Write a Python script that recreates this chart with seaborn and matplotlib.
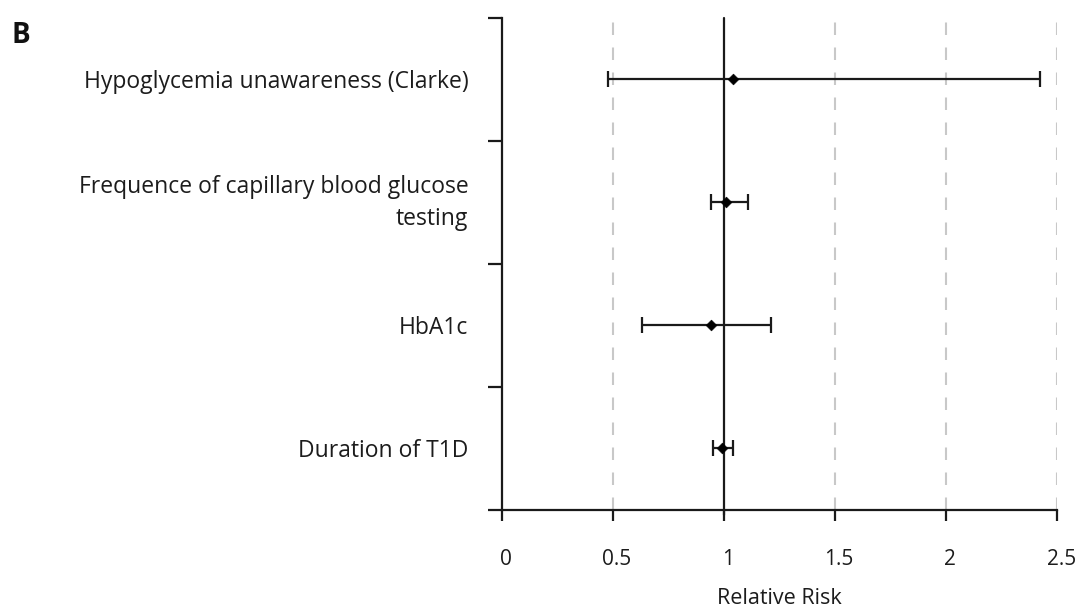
import numpy as np
import pandas as pd
import seaborn as sns
import matplotlib.pyplot as plt
from matplotlib.transforms import ScaledTranslation

# forest plot values
factors = ["Hypoglycemia unawareness (Clarke)",
           "Frequence of capillary blood glucose\ntesting",
           "HbA1c",
           "Duration of T1D"]
rr = [1.04, 1.01, 0.94, 0.99]
ci_low = [0.48, 0.94, 0.63, 0.95]
ci_high = [2.42, 1.11, 1.21, 1.04]
xticks = [0, 0.5, 1, 1.5, 2, 2.5]
xticklabels = ["0", "0.5", "1", "1.5", "2", "2.5"]

df = pd.DataFrame({"factor": factors, "rr": rr, "lo": ci_low, "hi": ci_high})
df["pos"] = np.arange(len(df))

sns.set_style("white")
plt.rcParams['font.family'] = ['Open Sans', 'DejaVu Sans']
txt = "#1c1c1c"

fig = plt.figure(figsize=(10.79, 6.13), dpi=100)
ax = fig.add_axes([0.465, 0.168, 0.515, 0.803])

# dashed grid, solid reference at 1
for x in xticks[1:]:
    if x == 1:
        ax.axvline(x, color="#1a1a1a", lw=1.6, ymin=-0.01, zorder=2, clip_on=False)
    else:
        ax.axvline(x, color="#c8c8c8", lw=1.5, ls=(0, (6, 6)), zorder=1)

ax.errorbar(df["rr"], df["pos"], xerr=[df["rr"] - df["lo"], df["hi"] - df["rr"]],
            fmt="none", ecolor="#1a1a1a", elinewidth=1.6, capsize=6, capthick=1.6, zorder=3)
sns.scatterplot(data=df, x="rr", y="pos", marker="D", s=30, color="black",
                edgecolor="black", ax=ax, zorder=4, legend=False)

ax.set_xlim(0, 2.5)
ax.set_ylim(3.5, -0.5)
ax.set_xticks(xticks)
ax.set_xticklabels(xticklabels)
ax.set_yticks(np.arange(-0.5, 4, 1))
ax.set_yticklabels([])
ax.set_yticks(df["pos"], minor=True)
ax.set_yticklabels(factors, minor=True, ha="right", fontsize=16.5, color=txt,
                   linespacing=1.45)
ax.tick_params(axis="y", which="minor", length=0, pad=24)
ax.tick_params(axis="y", which="major", length=10, width=1.6, color="#1a1a1a", direction="out", left=True)
ax.tick_params(axis="x", length=8, width=1.6, color="#1a1a1a", direction="out", bottom=True,
               pad=20, labelsize=15, labelcolor=txt)
# tick labels in the original sit a little right of their ticks
shift = ScaledTranslation(4 / 100, 0, fig.dpi_scale_trans)
for lab in ax.get_xticklabels():
    lab.set_transform(lab.get_transform() + shift)
ax.get_yticklabels(minor=True)[1].set_transform(
    ax.get_yticklabels(minor=True)[1].get_transform() + ScaledTranslation(0, 6 / 100, fig.dpi_scale_trans))
ax.set_xlabel("Relative Risk", fontsize=15.5, labelpad=13, color=txt)
ax.set_ylabel("")

sns.despine(ax=ax, top=True, right=True)
for s in ["left", "bottom"]:
    ax.spines[s].set_color("#1a1a1a")
    ax.spines[s].set_linewidth(1.6)

fig.text(0.011, 0.93, "B", fontsize=20, fontweight="bold", color="#111111")

fig.savefig("out.png", dpi=100)
